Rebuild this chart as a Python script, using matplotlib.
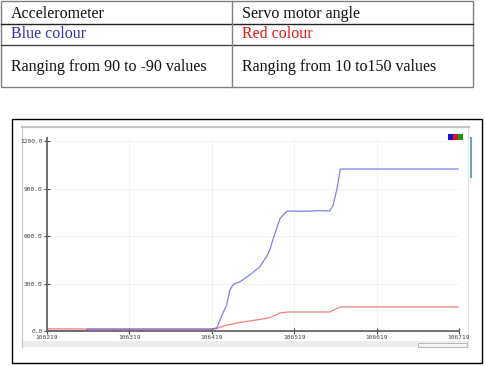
import matplotlib.pyplot as plt
from matplotlib.patches import Rectangle

# table text
header = ["Accelerometer", "Servo motor angle"]
colour_row = ["Blue colour", "Red colour"]
range_row = ["Ranging from 90 to -90 values", "Ranging from 10 to150 values"]

# serial plotter data (sample index, value)
blue_x = [106219, 106266, 106268, 106419, 106425, 106429, 106434, 106437, 106441,
          106444, 106447, 106453, 106465, 106477, 106486, 106490, 106493, 106502,
          106508, 106511, 106530, 106550, 106562, 106566, 106571, 106575, 106718]
blue_y = [3, 3, 12, 12, 20, 70, 130, 164, 260, 285, 300, 310, 354, 404, 474, 522,
          575, 712, 745, 758, 756, 760, 758, 790, 900, 1023, 1023]
red_x = [106219, 106300, 106419, 106425, 106435, 106457, 106481, 106490, 106502,
         106511, 106562, 106566, 106575, 106718]
red_y = [14, 12, 12, 15, 35, 57, 76, 85, 114, 120, 120, 130, 152, 152]

x_ticks = [106219, 106319, 106419, 106519, 106619, 106719]
y_ticks = [0, 300, 600, 900, 1200]

W, H = 486, 366
fig = plt.figure(figsize=(W / 100, H / 100), dpi=100)


def box(x0, y0, x1, y1):
    return [x0 / W, 1 - y1 / H, (x1 - x0) / W, (y1 - y0) / H]


# background axes in pixel coordinates
bg = fig.add_axes([0, 0, 1, 1])
bg.set_xlim(0, W)
bg.set_ylim(H, 0)
bg.axis('off')

# table
grey = '#808080'
bg.add_patch(Rectangle((1, 1), 472, 86, fill=False, edgecolor=grey, lw=1.0))
bg.plot([1, 473], [24, 24], color='#222222', lw=1.0)
bg.plot([1, 473], [45, 45], color='#444444', lw=1.0)
bg.plot([232, 232], [1, 87], color=grey, lw=1.0)
serif = 'Liberation Serif'
for i, xt in enumerate([11, 242]):
    bg.text(xt, 13.5, header[i], family=serif, fontsize=11.5, va='center', color='#111111')
    bg.text(xt, 34.5, colour_row[i], family=serif, fontsize=11.5, va='center',
            color=['#3a2fb0', '#e8141c'][i])
    bg.text(xt, 67, range_row[i], family=serif, fontsize=11.5, va='center', color='#111111')

# chart frame and screenshot window
bg.add_patch(Rectangle((12, 119), 470, 244, fill=False, edgecolor='black', lw=1.0))
bg.plot([22, 469], [127, 127], color='#c4c4c4', lw=1.6)
bg.plot([22, 22], [127, 347], color='#c8c8c8', lw=0.9)
bg.plot([468, 468], [128, 346], color='#e4e4e4', lw=0.8)
bg.add_patch(Rectangle((22, 341), 446, 6, facecolor='#ececec', edgecolor='none'))
bg.add_patch(Rectangle((418, 343), 49, 4, facecolor='#f4f4f4', edgecolor='#b0b0b0', lw=0.6))
bg.add_patch(Rectangle((469.5, 137), 2, 41, facecolor='#6aa8b0', edgecolor='none'))
for j, c in enumerate(['#1010ee', '#ee1010', '#10a010']):
    bg.add_patch(Rectangle((448 + j * 5, 133.5), 4.5, 6.5, facecolor=c, edgecolor='none'))

# plot axes
ax = fig.add_axes(box(47, 138, 459, 331))
ax.set_xlim(x_ticks[0], x_ticks[-1])
ax.set_ylim(0, 1219)
ax.patch.set_alpha(0)
for s in ['top', 'right']:
    ax.spines[s].set_visible(False)
for s in ['left', 'bottom']:
    ax.spines[s].set_color('#666666')
    ax.spines[s].set_linewidth(1.3)
ax.set_xticks(x_ticks)
ax.set_yticks(y_ticks)
ax.set_xticklabels([str(v) for v in x_ticks])
ax.set_yticklabels([f"{v:.1f}" for v in y_ticks])
ax.tick_params(direction='inout', length=4, width=0.8, color='#444444',
               labelsize=4.5, labelcolor='#444444', pad=1)
for lab in ax.get_xticklabels() + ax.get_yticklabels():
    lab.set_family('DejaVu Sans Mono')
ax.grid(True, color='#f0f0f0', lw=0.6)
ax.set_axisbelow(True)

ax.plot(red_x, red_y, color='#f06868', lw=0.9, alpha=0.85, solid_joinstyle='round')
ax.plot(blue_x, blue_y, color='#6060e0', lw=0.9, alpha=0.8, solid_joinstyle='round')

plt.savefig("out.png", dpi=100)
